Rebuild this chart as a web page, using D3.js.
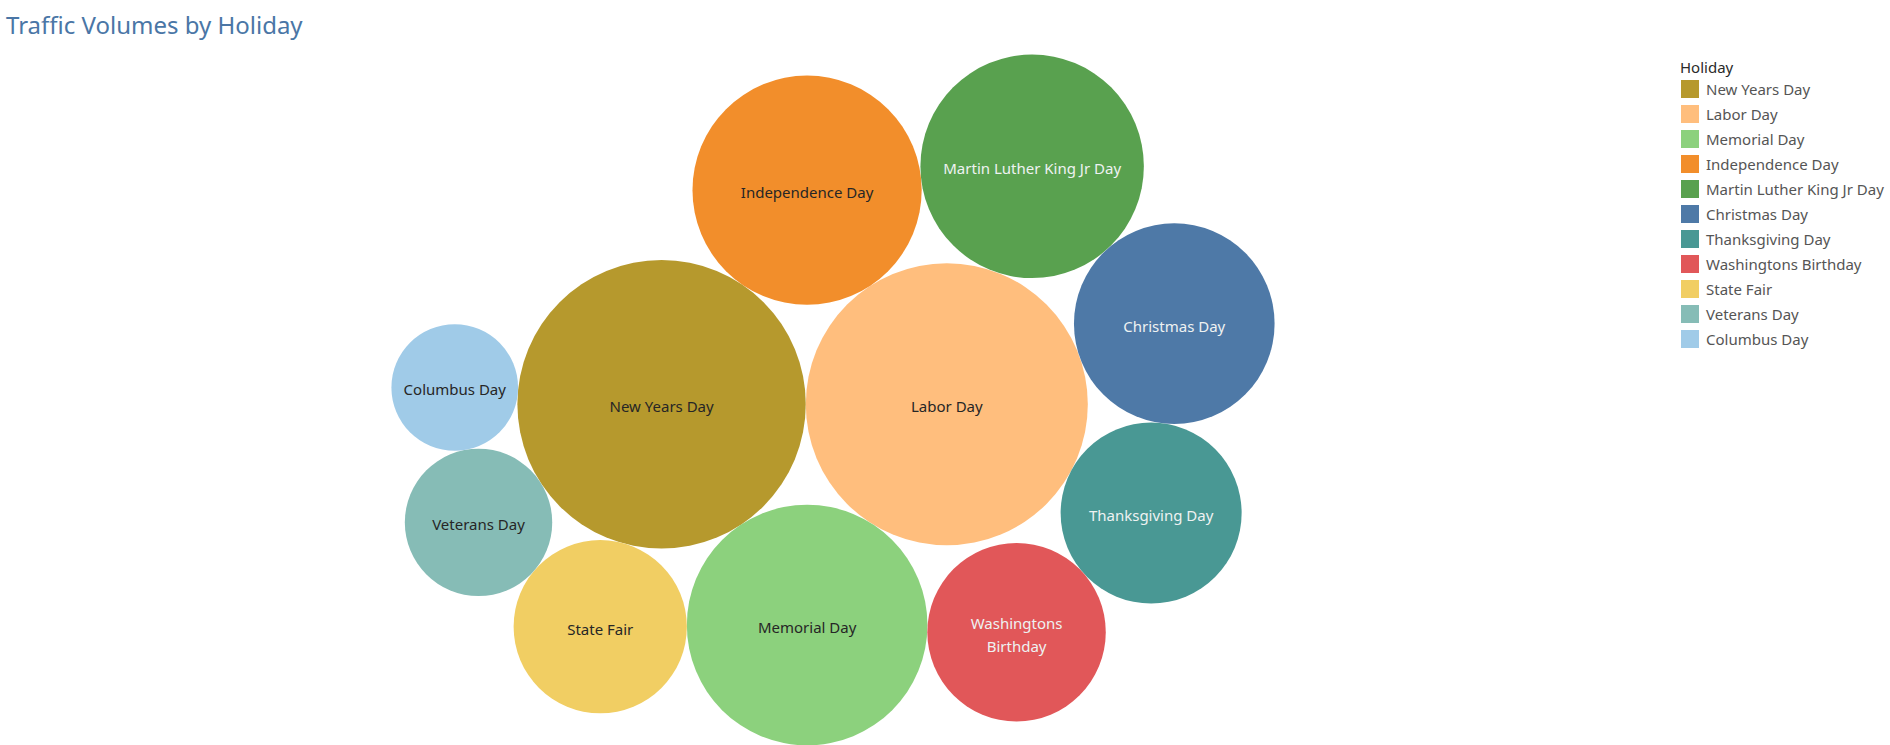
<!DOCTYPE html>
<html>
<head>
<meta charset="utf-8">
<script src="https://cdn.jsdelivr.net/npm/d3@7"></script>
<style>
  html, body { margin: 0; padding: 0; background: #fff; }
  svg { display: block; }
</style>
</head>
<body>
<svg id="chart" width="1890" height="745"></svg>
<script>
// ---- Data ----
const holidays = [
  "New Years Day", "Labor Day", "Memorial Day", "Independence Day",
  "Martin Luther King Jr Day", "Christmas Day", "Thanksgiving Day",
  "Washingtons Birthday", "State Fair", "Veterans Day", "Columbus Day"
];
const volumes = [20790, 19880, 14470, 13130, 12480, 10060, 8190, 7960, 7500, 5430, 4010];
const colors = [
  "#B6992D", "#FFBE7D", "#8CD17D", "#F28E2B", "#59A14F", "#4E79A7",
  "#499894", "#E15759", "#F1CE63", "#86BCB6", "#A0CBE8"
];
const lightLabel = [false, false, false, false, true, true, true, true, false, false, false];

const FONT = "'Noto Sans', 'Open Sans', sans-serif";
const svg = d3.select("#chart");

// Title
svg.append("text")
  .attr("x", 6).attr("y", 34)
  .attr("font-family", FONT).attr("font-size", 24)
  .attr("fill", "#4a76a6")
  .text("Traffic Volumes by Holiday");

// Radius scale (area proportional to value)
const rScale = d3.scaleSqrt().domain([0, d3.max(volumes)]).range([0, 144.2]);
const nodes = holidays.map((h, i) => ({ name: h, value: volumes[i], color: colors[i], light: lightLabel[i], r: rScale(volumes[i]) }));

// ---- Packed-bubble layout: front-chain spiral (clockwise) ----
function packBubbles(list, k, tol) {
  const score = s => s.x * s.x + k * k * s.y * s.y;
  const intersects = (p, q) => Math.hypot(p.x - q.x, p.y - q.y) < p.r + q.r - 1e-6;
  const outside = (a, b, r) => {
    const dx = b.x - a.x, dy = b.y - a.y, d = Math.hypot(dx, dy);
    const da = a.r + r, db = b.r + r;
    const t = (d * d + da * da - db * db) / (2 * d);
    const h = Math.sqrt(Math.max(0, da * da - t * t));
    const ux = dx / d, uy = dy / d;
    return { x: a.x + t * ux + h * uy, y: a.y + t * uy - h * ux };
  };
  const N = list.map(c => ({ c }));
  const A = N[0], B = N[1], C = N[2];
  A.c.x = -A.c.r; A.c.y = 0; B.c.x = B.c.r; B.c.y = 0;
  Object.assign(C.c, outside(B.c, A.c, C.c.r));
  A.next = B; B.prev = A; B.next = C; C.prev = B; C.next = A; A.prev = C;
  let a = A, b = B;
  for (let i = 3; i < N.length; i++) {
    const c = N[i].c;
    let minS = Infinity, n = a;
    do { minS = Math.min(minS, score(outside(n.c, n.next.c, c.r))); n = n.next; } while (n !== a);
    let guard = 0;
    while (score(outside(a.c, b.c, c.r)) > (1 + tol) * minS && guard++ < 100) { a = b; b = b.next; }
    for (let tries = 0; tries < 100; tries++) {
      Object.assign(c, outside(a.c, b.c, c.r));
      let j = b.next, kk = a.prev, sj = b.c.r, sk = a.c.r, hit = false;
      do {
        if (sj <= sk) {
          if (intersects(j.c, c)) { b = j; a.next = b; b.prev = a; hit = true; break; }
          sj += j.c.r; j = j.next;
        } else {
          if (intersects(kk.c, c)) { a = kk; a.next = b; b.prev = a; hit = true; break; }
          sk += kk.c.r; kk = kk.prev;
        }
      } while (j !== kk.next);
      if (!hit) break;
    }
    const node = N[i];
    node.prev = a; node.next = b; a.next = node; b.prev = node;
    a = node;
  }
}
packBubbles(nodes, 2, 0.25);

// Centre the packed group in the plot area
const x0 = d3.min(nodes, d => d.x - d.r), x1 = d3.max(nodes, d => d.x + d.r);
const y0 = d3.min(nodes, d => d.y - d.r), y1 = d3.max(nodes, d => d.y + d.r);
const plotCx = 833, plotCy = 400;
const dx = plotCx - (x0 + x1) / 2, dy = plotCy - (y0 + y1) / 2;

const g = svg.append("g").attr("transform", `translate(${dx},${dy})`);
const bub = g.selectAll("g.bubble").data(nodes).join("g")
  .attr("class", "bubble")
  .attr("transform", d => `translate(${d.x},${d.y})`);

bub.append("circle").attr("r", d => d.r).attr("fill", d => d.color);

bub.each(function(d) {
  const sel = d3.select(this);
  const t = sel.append("text")
    .attr("text-anchor", "middle")
    .attr("font-family", FONT).attr("font-size", 15)
    .attr("fill", d.light ? "#eef2f2" : "#262626")
    .attr("y", 8)
    .text(d.name);
  const w = t.node().getComputedTextLength();
  if (w > 1.65 * d.r) {
    const words = d.name.split(" ");
    t.text(null);
    t.append("tspan").attr("x", 0).attr("y", -3).text(words.slice(0, -1).join(" "));
    t.append("tspan").attr("x", 0).attr("y", 20).text(words.slice(-1)[0]);
  }
});

// Legend
const lg = svg.append("g").attr("transform", "translate(1680,0)");
lg.append("text").attr("x", 0).attr("y", 73)
  .attr("font-family", FONT).attr("font-size", 15)
  .attr("fill", "#2a2a2a").text("Holiday");
const row = lg.selectAll("g.row").data(nodes).join("g")
  .attr("class", "row")
  .attr("transform", (d, i) => `translate(0,${80 + i * 25})`);
row.append("rect").attr("x", 1).attr("width", 18).attr("height", 18).attr("fill", d => d.color);
row.append("text").attr("x", 26).attr("y", 15)
  .attr("font-family", FONT).attr("font-size", 15).attr("fill", "#555")
  .text(d => d.name);
</script>
</body>
</html>
